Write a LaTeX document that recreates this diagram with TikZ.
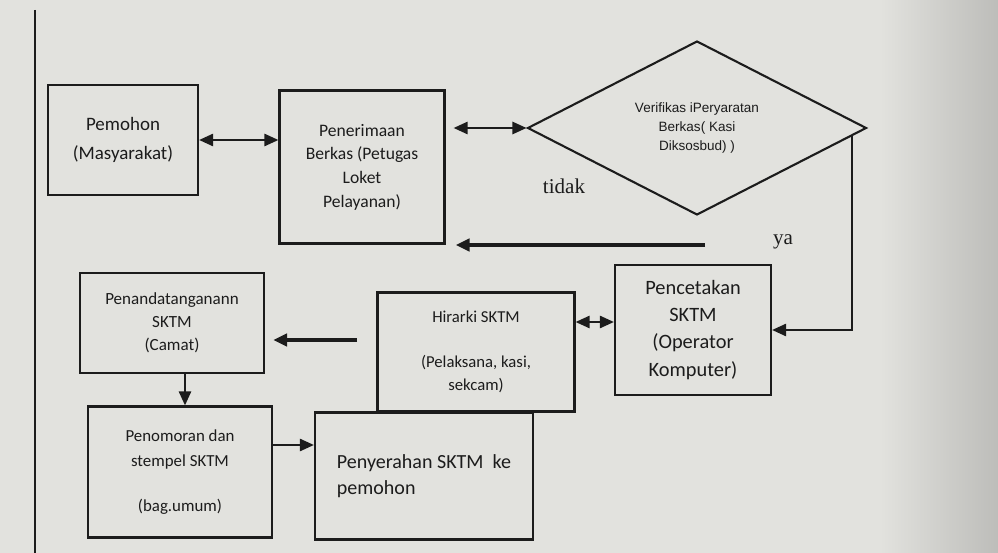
\documentclass[tikz,border=0pt]{standalone}
\usepackage{fontspec}
\setmainfont{Carlito}
\newfontfamily\arialfont{Liberation Sans}
\newfontfamily\timesfont{Liberation Serif}
\usetikzlibrary{arrows.meta, shapes.geometric}
\definecolor{paper}{RGB}{226,226,222}
\definecolor{ink}{RGB}{28,28,28}

\begin{document}
\begin{tikzpicture}[x=0.02cm, y=-0.02cm, >={Triangle[length=8pt,width=7pt]}, ink,
  box/.style={rectangle,draw=ink,line width=1.3pt,align=center,text=ink,font=\fontsize{10}{13.5}\selectfont},
  decision/.style={diamond,draw=ink,line width=1.2pt,aspect=1.95,inner sep=0pt,
    minimum width=6.78cm,minimum height=3.48cm,align=center,font=\arialfont\fontsize{7.7}{11}\selectfont},
  link/.style={line width=1.1pt},
  bold link/.style={line width=2.3pt},
  answer/.style={text=ink,font=\timesfont\fontsize{12}{14}\selectfont}]

    % paper and page rule
    \useasboundingbox (0,0) rectangle (998,553);
    \begin{scope}
      \clip (0,0) rectangle (998,553);
      \fill[paper] (-10,-10) rectangle (1010,563);
      \shade[left color=paper, right color=paper!82!black] (880,-10) rectangle (1010,563);
    \end{scope}
    \draw[ink, line width=1.2pt] (35,10) -- (35,553);

	\node[box, minimum width=3cm, minimum height=2.2cm, font=\fontsize{10.8}{16}\selectfont] (1) at (123,140) {Pemohon\\(Masyarakat)};
    \node[box, minimum width=3.3cm, minimum height=3.06cm] (2) at (362,167) {Penerimaan\\Berkas (Petugas\\Loket\\Pelayanan)};
    \node[decision] (3) at (697,128) {Verifikas iPeryaratan\\Berkas( Kasi\\Diksosbud) )};
    \node[box, minimum width=3.12cm, minimum height=2.6cm, font=\fontsize{11.6}{15.4}\selectfont] (4) at (693,330) {Pencetakan\\SKTM\\(Operator\\Komputer)};
    \node[box, minimum width=3.94cm, minimum height=2.38cm, font=\fontsize{9.5}{13}\selectfont] (5) at (476,352) {Hirarki SKTM\\[12.5pt](Pelaksana, kasi,\\sekcam)};
    \node[box, minimum width=3.68cm, minimum height=2cm, font=\fontsize{9.7}{13.2}\selectfont] (6) at (172,323) {Penandatanganann\\SKTM\\(Camat)};
    \node[box, minimum width=3.68cm, minimum height=2.62cm, font=\fontsize{9.6}{14}\selectfont] (7) at (180,472) {Penomoran dan\\stempel SKTM\\[11.5pt](bag.umum)};
    \node[box, align=left, minimum width=4.36cm, minimum height=2.54cm, font=\fontsize{11.4}{15.1}\selectfont] (8) at (424,476) {Penyerahan SKTM\ \ ke\\pemohon};

    \node[answer] (tidak) at (564,186) {tidak};
    \node[answer] (ya) at (783,242) {ya};

    \coordinate (no) at (705,245);
    \coordinate (yes) at (852,135);
    \coordinate (down) at (357,340);

    \path (1.east) edge [link, <->] (1.east -| 2.west);
    \path (3.west -| 2.east) edge [link, <->, shorten <=0.16cm] (3.west);
    \draw[bold link, ->, shorten >=0.2cm] (no) -- (no -| 2.east);
    \draw[link, ->] (yes) |- (4.east);
    \path ([yshift=0.16cm]4.west -| 5.east) edge [link, <->] ([yshift=0.16cm]4.west);
    \draw[bold link, ->, shorten >=0.16cm] (down) -- (down -| 6.east);
    \draw[link, ->] ([xshift=0.26cm]6.south) -- ([xshift=0.26cm]6.south |- 7.north);
    \draw[link, ->] ([yshift=0.54cm]7.east) -- ([yshift=0.54cm]7.east -| 8.west);

\end{tikzpicture}
\end{document}
